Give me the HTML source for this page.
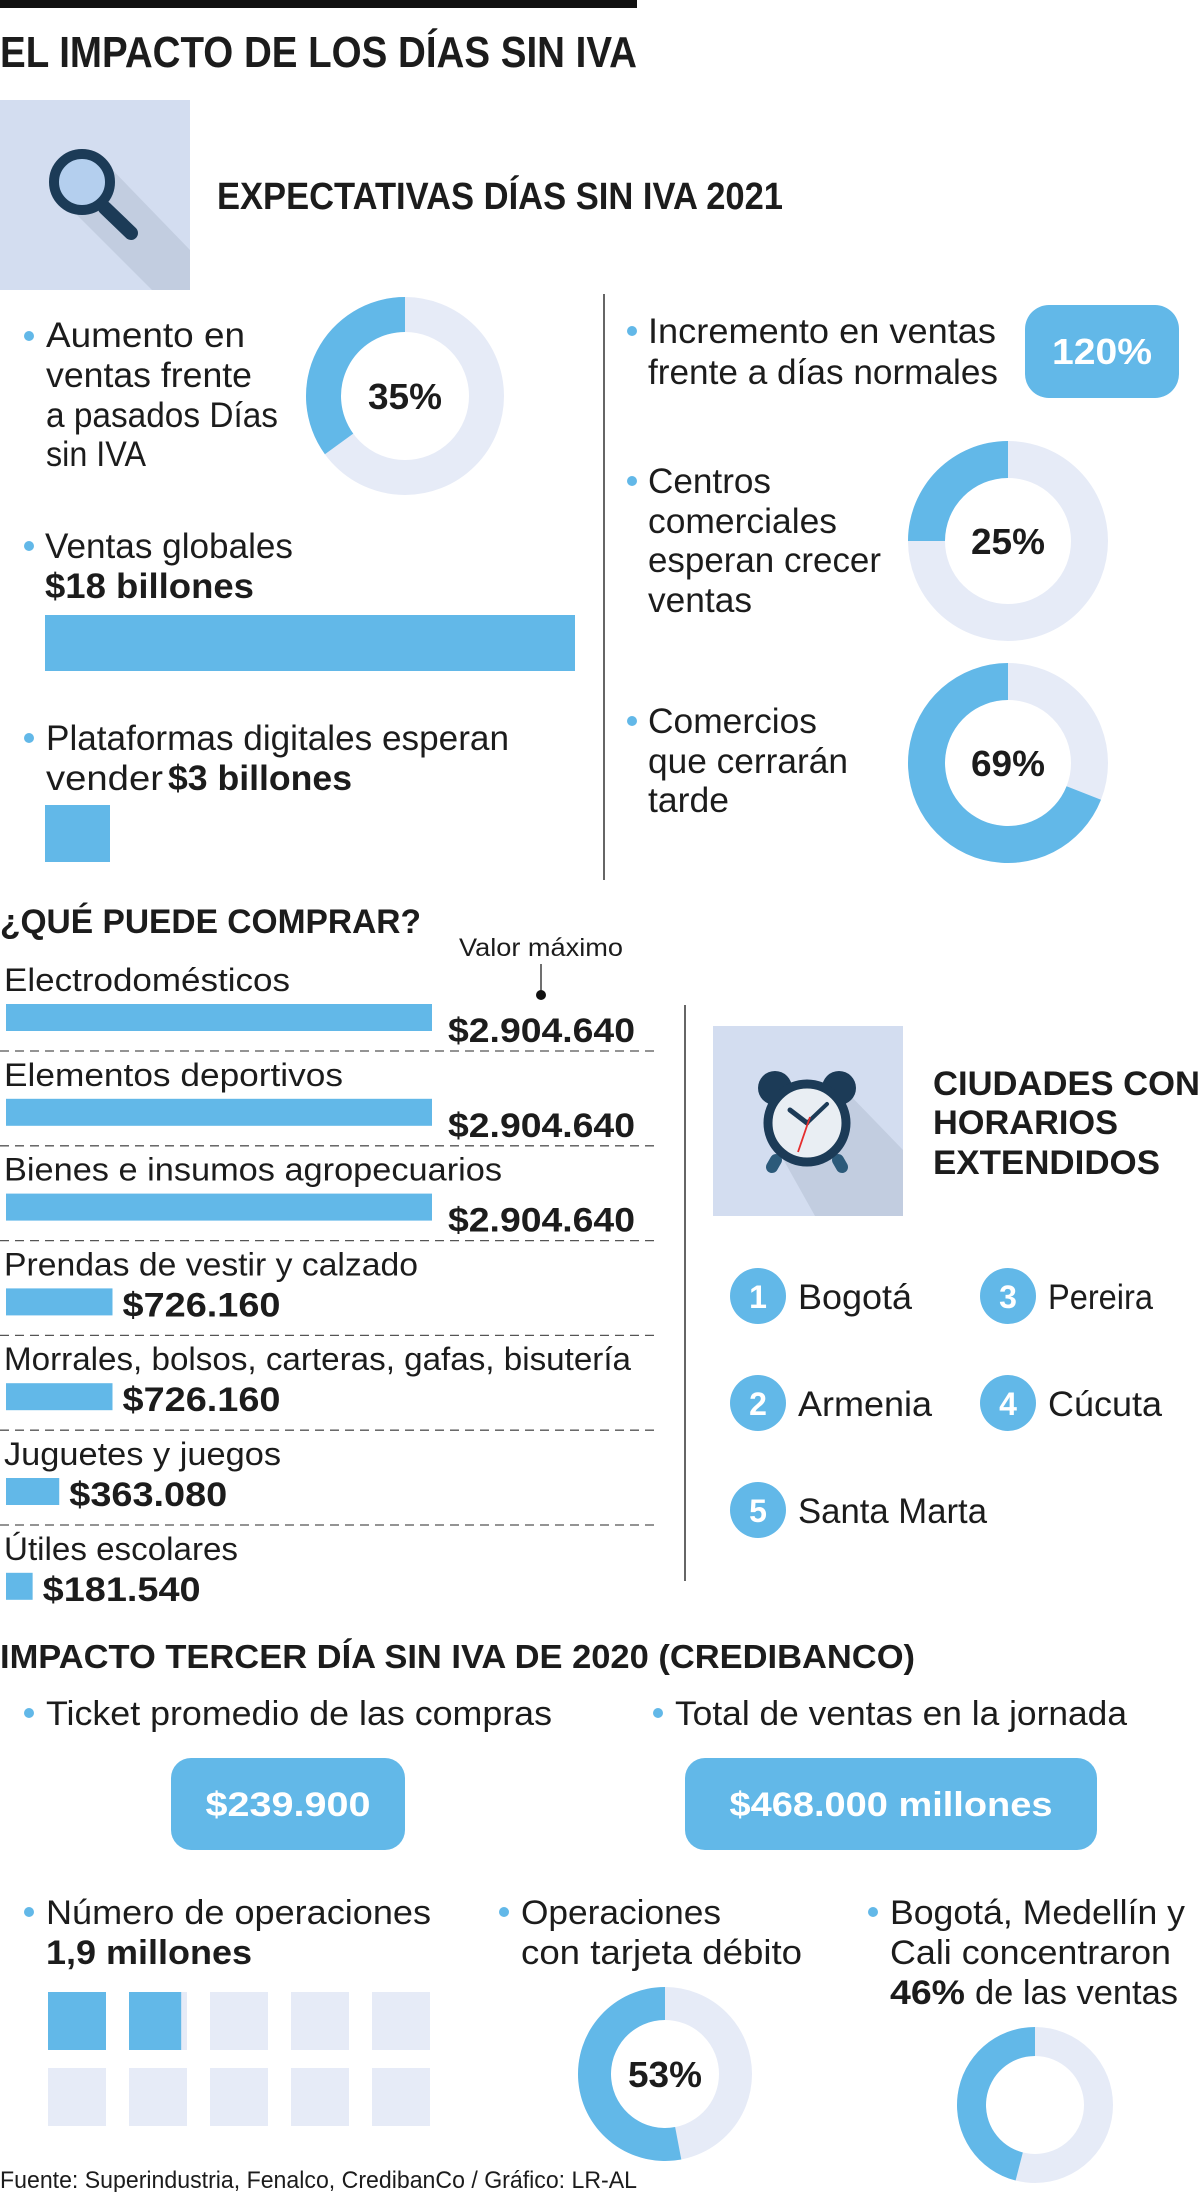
<!DOCTYPE html>
<html><head><meta charset="utf-8"><style>
html,body{margin:0;padding:0;background:#fff}
svg{display:block}
text{font-family:"Liberation Sans",sans-serif;fill:#1c1c1c}
.l{font-weight:normal}
.b{font-weight:bold}
</style></head><body>
<svg id="g" width="1200" height="2192" viewBox="0 0 1200 2192" xmlns="http://www.w3.org/2000/svg">
<rect x="0" y="0" width="637" height="8" fill="#111"/>
<text class="b" x="0" y="67" font-size="44" textLength="637" lengthAdjust="spacingAndGlyphs">EL IMPACTO DE LOS DÍAS SIN IVA</text>

<!-- magnifier icon -->
<g>
<rect x="0" y="100" width="190" height="190" fill="#d3ddf0"/>
<polygon points="62,200 103,160 190,250 190,290 152,290" fill="#c2cde0"/>
<line x1="105" y1="208" x2="131" y2="233" stroke="#1c3b57" stroke-width="14" stroke-linecap="round"/>
<circle cx="82" cy="182" r="28" fill="#b4cfee" stroke="#1c3b57" stroke-width="10"/>
</g>
<text class="b" x="217" y="209" font-size="38" textLength="566" lengthAdjust="spacingAndGlyphs">EXPECTATIVAS DÍAS SIN IVA 2021</text>
<line x1="604" y1="294" x2="604" y2="880" stroke="#333" stroke-width="1.5"/>

<g>
<circle cx="29" cy="336" r="5" fill="#62b8e8"/>
<text class="l" x="46" y="347" font-size="35" textLength="199" lengthAdjust="spacingAndGlyphs">Aumento en</text>
<text class="l" x="46" y="387" font-size="35" textLength="206" lengthAdjust="spacingAndGlyphs">ventas frente</text>
<text class="l" x="46" y="427" font-size="35" textLength="232" lengthAdjust="spacingAndGlyphs">a pasados Días</text>
<text class="l" x="46" y="466" font-size="35" textLength="100" lengthAdjust="spacingAndGlyphs">sin IVA</text>
</g>
<g>
<circle cx="29" cy="546" r="5" fill="#62b8e8"/>
<text class="l" x="45" y="558" font-size="35" textLength="248" lengthAdjust="spacingAndGlyphs">Ventas globales</text>
<text class="b" x="45" y="598" font-size="35" textLength="209" lengthAdjust="spacingAndGlyphs">$18 billones</text>
</g>
<rect x="45" y="615" width="530" height="56" fill="#62b8e8"/>
<g>
<circle cx="29" cy="738" r="5" fill="#62b8e8"/>
<text class="l" x="46" y="750" font-size="35" textLength="463" lengthAdjust="spacingAndGlyphs">Plataformas digitales esperan</text>
<text class="l" x="46" y="790" font-size="35" textLength="117" lengthAdjust="spacingAndGlyphs">vender</text>
<text class="b" x="168" y="790" font-size="35" textLength="184" lengthAdjust="spacingAndGlyphs">$3 billones</text>
</g>
<rect x="45" y="805" width="65" height="57" fill="#62b8e8"/>

<g>
<circle cx="632" cy="331" r="5" fill="#62b8e8"/>
<text class="l" x="648" y="343" font-size="35" textLength="348" lengthAdjust="spacingAndGlyphs">Incremento en ventas</text>
<text class="l" x="648" y="384" font-size="35" textLength="350" lengthAdjust="spacingAndGlyphs">frente a días normales</text>
</g>
<rect x="1025" y="305" width="154" height="93" rx="24" fill="#62b8e8"/>
<text class="b" x="1102" y="364" font-size="36" text-anchor="middle" style="fill:#fff" textLength="100" lengthAdjust="spacingAndGlyphs">120%</text>
<g>
<circle cx="632" cy="481" r="5" fill="#62b8e8"/>
<text class="l" x="648" y="493" font-size="35" textLength="123" lengthAdjust="spacingAndGlyphs">Centros</text>
<text class="l" x="648" y="533" font-size="35" textLength="189" lengthAdjust="spacingAndGlyphs">comerciales</text>
<text class="l" x="648" y="572" font-size="35" textLength="233" lengthAdjust="spacingAndGlyphs">esperan crecer</text>
<text class="l" x="648" y="612" font-size="35" textLength="104" lengthAdjust="spacingAndGlyphs">ventas</text>
</g>
<g>
<circle cx="632" cy="721" r="5" fill="#62b8e8"/>
<text class="l" x="648" y="733" font-size="35" textLength="169" lengthAdjust="spacingAndGlyphs">Comercios</text>
<text class="l" x="648" y="773" font-size="35" textLength="200" lengthAdjust="spacingAndGlyphs">que cerrarán</text>
<text class="l" x="648" y="812" font-size="35" textLength="81" lengthAdjust="spacingAndGlyphs">tarde</text>
</g>

<g id="donuts"></g>

<!-- Qué puede comprar -->
<text class="b" x="0" y="933" font-size="34" textLength="421" lengthAdjust="spacingAndGlyphs">¿QUÉ PUEDE COMPRAR?</text>
<text class="l" x="459" y="956" font-size="25" textLength="164" lengthAdjust="spacingAndGlyphs">Valor máximo</text>
<line x1="541" y1="964" x2="541" y2="993" stroke="#111" stroke-width="1.2"/>
<circle cx="541" cy="995" r="5" fill="#111"/>
<g id="bars"></g>
<line x1="685" y1="1005" x2="685" y2="1581" stroke="#333" stroke-width="1.5"/>

<!-- clock icon -->
<g>
<rect x="713" y="1026" width="190" height="190" fill="#d3ddf0"/>
<polygon points="778,1150 845,1090 903,1150 903,1216 815,1216" fill="#c2cde0"/>
<circle cx="775" cy="1088" r="17" fill="#1c3b57"/>
<circle cx="839" cy="1088" r="17" fill="#1c3b57"/>
<line x1="776" y1="1160" x2="772" y2="1167" stroke="#2c5a7a" stroke-width="12" stroke-linecap="round"/>
<line x1="838" y1="1160" x2="842" y2="1167" stroke="#2c5a7a" stroke-width="12" stroke-linecap="round"/>
<circle cx="807" cy="1123" r="39" fill="#e9eef3" stroke="#1c3b57" stroke-width="9"/>
<line x1="807" y1="1123" x2="790" y2="1110" stroke="#1c3b57" stroke-width="5" stroke-linecap="round"/>
<line x1="807" y1="1123" x2="827" y2="1104" stroke="#1c3b57" stroke-width="4" stroke-linecap="round"/>
<line x1="810" y1="1117" x2="798" y2="1152" stroke="#e52d2d" stroke-width="1.8"/>
</g>
<g>
<text class="b" x="933" y="1095" font-size="34" textLength="267" lengthAdjust="spacingAndGlyphs">CIUDADES CON</text>
<text class="b" x="933" y="1134" font-size="34" textLength="185" lengthAdjust="spacingAndGlyphs">HORARIOS</text>
<text class="b" x="933" y="1174" font-size="34" textLength="227" lengthAdjust="spacingAndGlyphs">EXTENDIDOS</text>
</g>
<g id="cities"></g>

<!-- 2020 section -->
<text class="b" x="0" y="1668" font-size="33" textLength="915" lengthAdjust="spacingAndGlyphs">IMPACTO TERCER DÍA SIN IVA DE 2020 (CREDIBANCO)</text>
<g>
<circle cx="29" cy="1713" r="5" fill="#62b8e8"/>
<text class="l" x="46" y="1725" font-size="34" textLength="506" lengthAdjust="spacingAndGlyphs">Ticket promedio de las compras</text>
</g>
<g>
<circle cx="658" cy="1713" r="5" fill="#62b8e8"/>
<text class="l" x="675" y="1725" font-size="34" textLength="452" lengthAdjust="spacingAndGlyphs">Total de ventas en la jornada</text>
</g>
<rect x="171" y="1758" width="234" height="92" rx="20" fill="#62b8e8"/>
<text class="b" x="288" y="1816" font-size="34" text-anchor="middle" style="fill:#fff" textLength="165" lengthAdjust="spacingAndGlyphs">$239.900</text>
<rect x="685" y="1758" width="412" height="92" rx="20" fill="#62b8e8"/>
<text class="b" x="891" y="1816" font-size="34" text-anchor="middle" style="fill:#fff" textLength="323" lengthAdjust="spacingAndGlyphs">$468.000 millones</text>

<g>
<circle cx="29" cy="1912" r="5" fill="#62b8e8"/>
<text class="l" x="46" y="1924" font-size="34" textLength="385" lengthAdjust="spacingAndGlyphs">Número de operaciones</text>
<text class="b" x="46" y="1964" font-size="34" textLength="206" lengthAdjust="spacingAndGlyphs">1,9 millones</text>
</g>
<g id="squares"></g>
<g>
<circle cx="504" cy="1912" r="5" fill="#62b8e8"/>
<text class="l" x="521" y="1924" font-size="34" textLength="200" lengthAdjust="spacingAndGlyphs">Operaciones</text>
<text class="l" x="521" y="1964" font-size="34" textLength="281" lengthAdjust="spacingAndGlyphs">con tarjeta débito</text>
</g>
<g>
<circle cx="873" cy="1912" r="5" fill="#62b8e8"/>
<text class="l" x="890" y="1924" font-size="34" textLength="295" lengthAdjust="spacingAndGlyphs">Bogotá, Medellín y</text>
<text class="l" x="890" y="1964" font-size="34" textLength="281" lengthAdjust="spacingAndGlyphs">Cali concentraron</text>
<text class="b" x="890" y="2004" font-size="34" textLength="75" lengthAdjust="spacingAndGlyphs">46%</text>
<text class="l" x="975" y="2004" font-size="34" textLength="203" lengthAdjust="spacingAndGlyphs">de las ventas</text>
</g>
<text class="l" x="0" y="2188" font-size="24" textLength="637" lengthAdjust="spacingAndGlyphs">Fuente: Superindustria, Fenalco, CredibanCo / Gráfico: LR-AL</text>
</svg>
<script>
var NS='http://www.w3.org/2000/svg';
// donut data
var donutNames=['aumento-donut','centros-donut','comercios-donut','debito-donut','ciudades-ventas-donut'];
var donutValues=[35,25,69,53,46];
var donutLabels=['35%','25%','69%','53%',''];
// bar chart data
var itemCategories=['Electrodomésticos','Elementos deportivos','Bienes e insumos agropecuarios','Prendas de vestir y calzado','Morrales, bolsos, carteras, gafas, bisutería','Juguetes y juegos','Útiles escolares'];
var itemValues=[2904640,2904640,2904640,726160,726160,363080,181540];
var itemValueLabels=['$2.904.640','$2.904.640','$2.904.640','$726.160','$726.160','$363.080','$181.540'];
// cities
var cityNames=['Bogotá','Armenia','Santa Marta','Pereira','Cúcuta'];
var cityNumbers=['1','2','5','3','4'];
// operations (millions)
var operationsTotal=1.9;
var operationsSquares=10;

function mk(tag,attrs,parent){var e=document.createElementNS(NS,tag);for(var k in attrs)e.setAttribute(k,attrs[k]);parent.appendChild(e);return e;}

// donut geometry (layout only)
var donutGeo=[[405,396,99,64],[1008,541,100,63],[1008,763,100,63],[665,2074,87,54],[1035,2105,78,49]];
var dg=document.getElementById('donuts');
function arcPath(cx,cy,R,r,pct){
  if(pct>=100)pct=99.99;
  var a=pct/100*2*Math.PI;
  var ox=cx-R*Math.sin(a),oy=cy-R*Math.cos(a);
  var ix=cx-r*Math.sin(a),iy=cy-r*Math.cos(a);
  var large=pct>50?1:0;
  return 'M'+cx+','+(cy-R)+' A'+R+','+R+' 0 '+large+' 0 '+ox+','+oy+' L'+ix+','+iy+' A'+r+','+r+' 0 '+large+' 1 '+cx+','+(cy-r)+' Z';
}
for(var i=0;i<donutValues.length;i++){
  var g=donutGeo[i];
  var grp=mk('g',{},dg);
  
  
  var bg=mk('circle',{cx:g[0],cy:g[1],r:(g[2]+g[3])/2,fill:'none',stroke:'#e6ebf7','stroke-width':g[2]-g[3]},grp);
  
  
  var p=mk('path',{d:arcPath(g[0],g[1],g[2],g[3],donutValues[i]),fill:'#62b8e8'},grp);
  
  
  if(donutLabels[i]){
    var t=mk('text',{x:g[0],y:g[1]+13,'font-size':36,'text-anchor':'middle','class':'b',textLength:74,lengthAdjust:'spacingAndGlyphs'},grp);
    t.textContent=donutLabels[i];
    
    
  }
}

// bar chart
var bg2=document.getElementById('bars');
var maxV=Math.max.apply(null,itemValues);
var barX0=6,barMaxW=426;
function xScale(v){return v/maxV*barMaxW;}
var rowY0=991,rowStep=94.8;
var labelW=[286,339,498,414,627,277,234];
for(var i=0;i<itemValues.length;i++){
  var y=rowY0+i*rowStep;
  var row=mk('g',{},bg2);
  
  
  var lt=mk('text',{x:4,y:y,'font-size':32,'class':'l',textLength:labelW[i],lengthAdjust:'spacingAndGlyphs'},row);
  lt.textContent=itemCategories[i];
  
  
  var w=xScale(itemValues[i]);
  var r=mk('rect',{x:barX0,y:y+13,width:w,height:27,fill:'#62b8e8'},row);
  
  
  var big=itemValues[i]>=maxV;
  var vx=barX0+w+(big?16:10);
  var vt=mk('text',{x:vx,y:big?y+51:y+41,'font-size':34,'class':'b',textLength:big?187:158,lengthAdjust:'spacingAndGlyphs'},row);
  vt.textContent=itemValueLabels[i];
  
  
  if(i<itemValues.length-1){
    var dl=mk('line',{x1:0,y1:y+60,x2:658,y2:y+60,stroke:'#555','stroke-width':1.3,'stroke-dasharray':'9,6'},row);
    
    
  }
}

// cities
var cg=document.getElementById('cities');
var cityPos=[[758,1296],[758,1403],[758,1510],[1008,1296],[1008,1403]];
var cityW=[114,134,189,105,114];
for(var i=0;i<cityNames.length;i++){
  var c=cityPos[i];
  var grp=mk('g',{},cg);
  
  
  mk('circle',{cx:c[0],cy:c[1],r:28,fill:'#62b8e8'},grp);
  var n=mk('text',{x:c[0],y:c[1]+12,'font-size':32,'text-anchor':'middle','class':'b',style:'fill:#fff'},grp);
  n.textContent=cityNumbers[i];
  var t=mk('text',{x:c[0]+40,y:c[1]+13,'font-size':35,'class':'l',textLength:cityW[i],lengthAdjust:'spacingAndGlyphs'},grp);
  t.textContent=cityNames[i];
}

// squares
var sg=document.getElementById('squares');
for(var i=0;i<operationsSquares;i++){
  var col=i%5,rw=Math.floor(i/5);
  var x=48+col*81,y=1992+rw*76;
  var s=mk('rect',{x:x,y:y,width:58,height:58,fill:'#e6ebf7'},sg);
  
  
  var fill=Math.max(0,Math.min(1,operationsTotal-i));
  if(fill>0){
    var f=mk('rect',{x:x,y:y,width:58*fill,height:58,fill:'#62b8e8'},sg);
    
    
  }
}
</script>
</body></html>
